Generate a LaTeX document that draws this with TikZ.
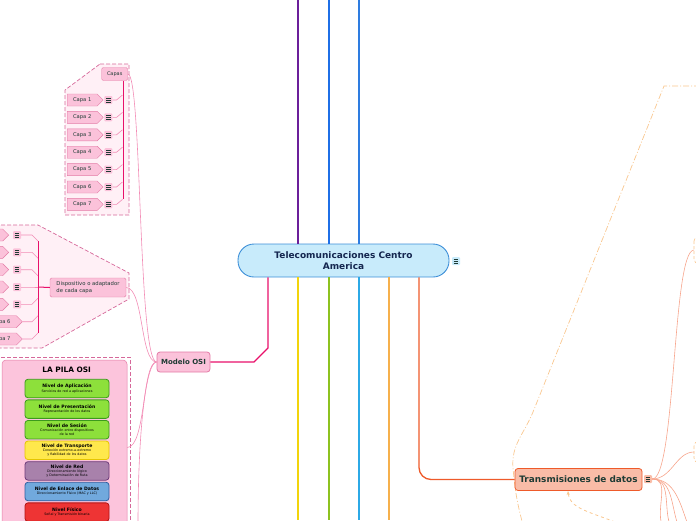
\documentclass[tikz,border=0pt]{standalone}
\usepackage{fontspec}
\setmainfont{DejaVu Sans}
\usetikzlibrary{shapes.symbols, arrows.meta, calc}

\definecolor{ctrfill}{HTML}{C8EBFB}
\definecolor{ctrline}{HTML}{3D8FD8}
\definecolor{ctrtext}{HTML}{14264F}
\definecolor{darktext}{HTML}{1E3B34}
\definecolor{osipink}{HTML}{E8106A}
\definecolor{osifill}{HTML}{FBC2DA}
\definecolor{osiline}{HTML}{E47BA6}
\definecolor{grpfill}{HTML}{FFF0F6}
\definecolor{grpdash}{HTML}{D6689A}
\definecolor{twig}{HTML}{F28CB5}
\definecolor{pilafill}{HTML}{FCC4DC}
\definecolor{trxfill}{HTML}{F9BCA7}
\definecolor{trxline}{HTML}{EE5A2A}
\definecolor{trxtwig}{HTML}{F7A58C}
\definecolor{trxdash}{HTML}{F9C78F}
\definecolor{brpurple}{HTML}{6B1F9A}
\definecolor{brblue}{HTML}{1F6FE6}
\definecolor{brbluetwo}{HTML}{2E7CE0}
\definecolor{bryellow}{HTML}{F2D40C}
\definecolor{brgreen}{HTML}{8DC220}
\definecolor{brcyan}{HTML}{2CA9E6}
\definecolor{brorange}{HTML}{F6B04C}
\definecolor{nvgreen}{HTML}{8DE03B}
\definecolor{nvgreend}{HTML}{3C9A1C}
\definecolor{nvyellow}{HTML}{FFE84C}
\definecolor{nvyellowd}{HTML}{E5C500}
\definecolor{nvpurple}{HTML}{A881AB}
\definecolor{nvpurpled}{HTML}{6D3B7A}
\definecolor{nvblue}{HTML}{71A9DD}
\definecolor{nvblued}{HTML}{2F5FA0}
\definecolor{nvred}{HTML}{EE3434}
\definecolor{nvredd}{HTML}{B21414}

\begin{document}
\begin{tikzpicture}[x=1pt, y=-1pt,
    mainbox/.style={rectangle, rounded corners=16pt, draw=ctrline, line width=0.9pt, fill=ctrfill,
      minimum width=211pt, minimum height=33pt, align=center, text=ctrtext,
      font=\bfseries\fontsize{9}{11}\selectfont},
    notebox/.style={rectangle, rounded corners=1pt, minimum size=8pt, inner sep=0pt,
      path picture={\foreach \k in {-2,0,2}
        \draw[darktext, line width=0.6pt] ($(path picture bounding box.center)+(-2.3,\k)$) -- ++(4.6,0);}},
    topicbox/.style={rectangle, rounded corners=3pt, line width=0.8pt, align=center, inner sep=1pt, text=darktext},
    osibox/.style={rectangle, rounded corners=1.5pt, draw=osiline, fill=osifill, inner sep=1pt, text=darktext},
    capa/.style={signal, signal to=east, signal pointer angle=90, draw=osiline, fill=osifill,
      minimum height=12pt, minimum width=36pt, inner sep=1pt, font=\fontsize{5.2}{6}\selectfont, text=darktext},
    nivel/.style={rectangle, rounded corners=3pt, line width=0.8pt, minimum width=84pt,
      minimum height=18.5pt, inner sep=0pt, align=center, text=black,
      font=\fontsize{3.3}{3.8}\selectfont},
    trunk/.style={osipink, line width=1pt},
    twigline/.style={twig, line width=0.6pt},
    grpline/.style={grpdash, dash pattern=on 4pt off 2pt, line width=0.7pt},
  ]
  \useasboundingbox (0,0) rectangle (696,520);
  \clip (0,0) rectangle (696,520);

  % central topic
  \node[mainbox] (ctr) at (343.5,260.5) {Telecomunicaciones Centro\\America};
  \node[notebox, fill=ctrfill] (ctrnote) at (456,261) {};

  % main branches leaving the page
  \foreach \x/\col in {298/brpurple,329/brblue,359/brbluetwo} {
    \coordinate (t\x) at (\x,0);
    \draw[line width=1.3pt, \col] (t\x) -- (t\x |- ctr.north);
  }
  \foreach \x/\col in {298/bryellow,329/brgreen,359/brcyan,389/brorange} {
    \coordinate (b\x) at (\x,520);
    \draw[line width=1.3pt, \col] (ctr.south -| b\x) -- (b\x);
  }

  % Modelo OSI
  \node[topicbox, draw=osiline, fill=osifill, minimum width=53pt, minimum height=20pt,
    font=\bfseries\fontsize{7}{8}\selectfont] (mos) at (183.5,362) {Modelo OSI};
  \coordinate (mosbend) at (268,348);
  \draw[osipink, line width=1.3pt] (ctr.south -| mosbend) -- (mosbend) -- ++(-14,14) -- (mos.east);

  % Capas group
  \draw[grpline, fill=grpfill] (100,64) -- (129,64) -- (129,215) -- (65,215) -- (65,90) -- cycle;
  \node[osibox, minimum width=26pt, minimum height=13pt, font=\fontsize{5}{6}\selectfont] (capas) at (114.7,74) {Capas};
  \coordinate (captr) at (123.3,199.4);
  \draw[trunk] (capas.south -| captr) -- (captr);
  \foreach \i in {1,...,7} {
    \pgfmathsetmacro\yy{100+17.4*(\i-1)}
    \node[capa, anchor=west] (cp\i) at (67,\yy) {Capa \i};
    \node[notebox, fill=osifill] (cpn\i) at (108.3,\yy) {};
    \draw[twigline] (cpn\i.east) -- ++(4,0) -- ++(6,-5);
  }

  % Dispositivo group
  \draw[grpline, fill=grpfill] (-5,225) -- (38,225) -- (129,273) -- (129,299) -- (42,348) -- (-5,348);
  \node[osibox, minimum width=76pt, minimum height=19pt, align=left,
    font=\fontsize{5.3}{6.2}\selectfont] (disp) at (88,287.5) {Dispositivo o adaptador\\de cada capa};
  \coordinate (dtr) at (38,287);
  \draw[trunk] (38,241) -- (38,333);
  \draw[trunk] (dtr) -- (disp.west);
  \foreach \i/\yy in {1/235,2/252.3,3/269.7,4/287,5/304.3,6/321.7,7/339} {
    \pgfmathsetmacro\dy{6*sign(287-\yy)}
    \ifnum\i<6
      \node[capa, anchor=east] (dc\i) at (9,\yy) {Capa \i};
      \node[notebox, fill=osifill] (dcn\i) at (17,\yy) {};
      \draw[twigline] (dcn\i.east) -- (32,\yy) -- ++(6,\dy);
    \else
      \node[capa, anchor=east] (dc\i) at (22.6,\yy) {Capa \i};
      \draw[twigline] (dc\i.east) -- (32,\yy) -- ++(6,\dy);
    \fi
  }

  % LA PILA OSI
  \draw[grpline] (-5,357) -- (130,357) -- (130,525);
  \node[rectangle, rounded corners=4pt, draw=osiline, fill=pilafill, line width=0.5pt,
    minimum width=125pt, minimum height=175pt, inner sep=0pt] (pila) at (64.5,447.5) {};
  \node[font=\bfseries\fontsize{7.4}{8}\selectfont, text=black] (pilat) at (66.7,370) {LA PILA OSI};
  \foreach \i/\tit/\sub/\fc/\dc in {
      1/{Nivel de Aplicación}/{Servicios de red a aplicaciones}/nvgreen/nvgreend,
      2/{Nivel de Presentación}/{Representación de los datos}/nvgreen/nvgreend,
      3/{Nivel de Sesión}/{Comunicación entre dispositivos\\de la red}/nvgreen/nvgreend,
      4/{Nivel de Transporte}/{Conexión extremo-a-extremo\\y fiabilidad de los datos}/nvyellow/nvyellowd,
      5/{Nivel de Red}/{Direccionamiento lógico\\y Determinación de Ruta}/nvpurple/nvpurpled,
      6/{Nivel de Enlace de Datos}/{Direccionamiento Físico (MAC y LLC)}/nvblue/nvblued,
      7/{Nivel Físico}/{Señal y Transmisión binaria}/nvred/nvredd} {
    \node[nivel, fill=\fc, draw=\dc] (nv\i) at (67,{388.5+20.6*(\i-1)})
      {{\bfseries\fontsize{4.6}{5.2}\selectfont \tit}\\[0.3pt]\sub};
  }

  % Modelo OSI to its subtopics
  \coordinate (mosd) at (138,525);
  \draw[twigline] (mos.west) .. controls (138,362) and (142,74) .. (capas.east);
  \draw[twigline] (mos.west) .. controls (140,362) and (144,288) .. (disp.east);
  \draw[twigline] (mos.west) .. controls (142,362) and (146,447) .. (pila.east);
  \draw[twigline] (mos.west) .. controls (146,362) and (138,430) .. (mosd);

  % Transmisiones de datos
  \draw[trxdash, line width=0.7pt, dash pattern=on 6pt off 2pt on 1pt off 2pt]
    (700,86) -- (664,86) -- (533,412) to[out=248,in=95] (513,468) to[out=-85,in=105] (523,525);
  \node[topicbox, draw=trxline, fill=trxfill, minimum width=127pt, minimum height=22pt,
    font=\bfseries\fontsize{8.9}{10}\selectfont] (trx) at (578.5,479.5) {Transmisiones de datos};
  \node[notebox, fill=trxfill] (trxnote) at (648,479) {};
  \coordinate (b419) at (419,520);
  \draw[trxline, line width=1.3pt, rounded corners=12pt] (ctr.south -| b419) -- (b419 |- trx.west) -- (trx.west);

  \draw[trxdash, dash pattern=on 3pt off 2pt, line width=0.6pt, rounded corners=5pt] (694,236) rectangle (712,264);
  \draw[trxdash, dash pattern=on 3pt off 2pt, line width=0.6pt, rounded corners=5pt] (694,441) rectangle (712,463);
  \coordinate (trxa) at (694,250);
  \coordinate (trxb) at (694,452);
  \draw[trxtwig, line width=0.6pt] (trxnote.east) .. controls (676,479) and (672,250) .. (trxa);
  \draw[trxtwig, line width=0.6pt] (trxnote.east) .. controls (672,479) and (676,452) .. (trxb);
  \foreach \x in {662,670,678,688} {
    \coordinate (trxd\x) at (\x,525);
    \draw[trxtwig, line width=0.6pt] (trxnote.east) to[out=0, in=110] (trxd\x);
  }

  % relationship arrow
  \coordinate (relstart) at (615,522);
  \draw[trxdash, line width=0.8pt, dashed, -{Stealth[length=4pt]}]
    (relstart) .. controls (590,512) and (569,508) .. ([xshift=-10.5pt]trx.south);
\end{tikzpicture}
\end{document}
